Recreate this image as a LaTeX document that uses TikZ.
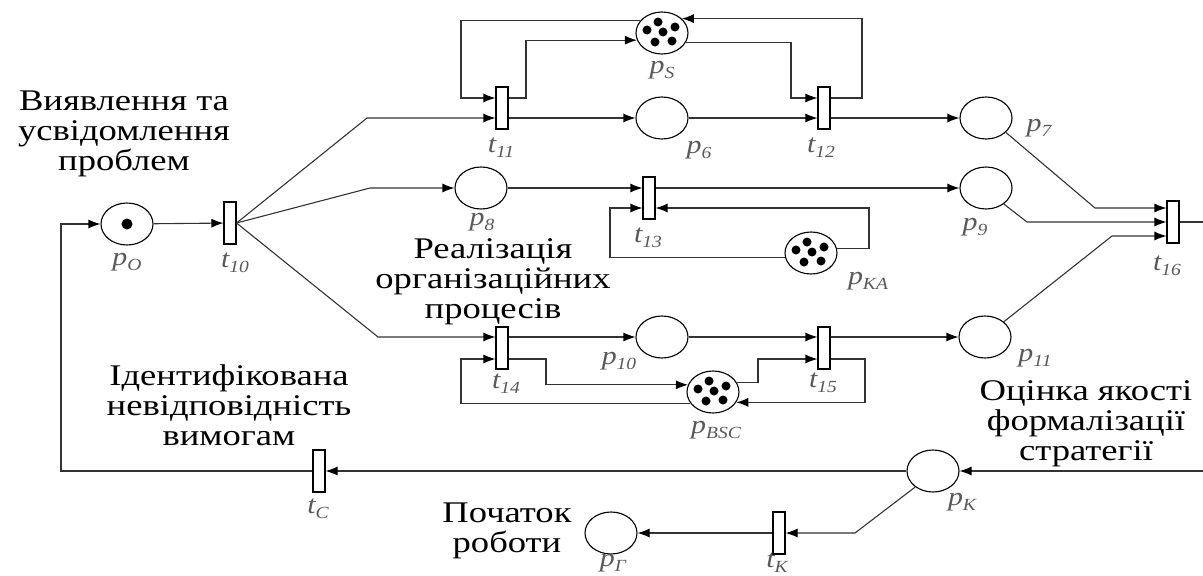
\documentclass[tikz,border=0pt]{standalone}
\usepackage{fontspec}
\usepackage{tikz}
\usetikzlibrary{arrows.meta}
\usetikzlibrary{calc}
\usetikzlibrary{shapes.geometric}
\newfontfamily\txtfont{Liberation Serif}[FakeStretch=1.22]
\newfontfamily\lblfont{Liberation Serif}[FakeStretch=1.15]
\newcommand{\pn}[2]{#1\raisebox{-0.2em}{\fontsize{17}{17}\selectfont #2}}

\begin{document}
\begin{tikzpicture}[x=1pt,y=-1pt,line width=1.1pt,
		place/.style={ellipse,draw,minimum width=52pt,minimum height=42pt,inner sep=0pt},
		trans/.style={rectangle,draw,fill=white,minimum width=12pt,minimum height=42pt,inner sep=0pt},
		lbl/.style={text=black!65,font=\lblfont\itshape\fontsize{26}{26}\selectfont,inner sep=0pt},
		txt/.style={align=center,font=\txtfont\fontsize{30}{30}\selectfont,inner sep=0pt},
		arr/.style={draw=black!80,-{Latex[length=12pt,width=9pt,color=black]}}]
		\useasboundingbox (0,0) rectangle (1203,576);
		% places
		\node[place] (pO) at (127,224) {};
		\fill (pO) circle (5.5pt);
		\node[place] (pS) at (662,33) {};
		\node[place] (p6) at (662,118) {};
		\node[place] (p7) at (986,118) {};
		\node[place] (p8) at (481,188) {};
		\node[place] (p9) at (986,188) {};
		\node[place] (pKA) at (811,253) {};
		\node[place] (p10) at (662,337) {};
		\node[place] (p11) at (985,337) {};
		\node[place] (pBSC) at (713,392) {};
		\node[place] (pK) at (933,471) {};
		\node[place] (pG) at (611,533) {};
		\foreach \q in {pS,pKA,pBSC}
			\foreach \dx/\dy in {-4/-11,-15/-3,1/-1,13/-6,-7/9,10/8}
				\fill ($(\q)+(\dx,\dy)$) circle (4.5pt);
		% transitions
		\node[trans] (t10) at (230,223) {};
		\node[trans] (t11) at (502,108) {};
		\node[trans] (t12) at (824,108) {};
		\node[trans] (t13) at (649,198) {};
		\node[trans] (t14) at (502,348) {};
		\node[trans] (t15) at (824,348) {};
		\node[trans] (t16) at (1173,222) {};
		\node[trans] (tC) at (319,471) {};
		\node[trans] (tK) at (779,533) {};
		\coordinate (out16) at (1203,222);
		\coordinate (inK) at (1203,471);
		% arcs
		\draw[arr] (pO) -- (t10);
		\draw[arr] (t10.east) -- (367,118) -- (t11.west |- p6);
		\draw[arr] (t10.east) -- (370,188) -- (p8);
		\draw[arr] (t10.east) -- (378,337) -- (t14.west |- p10);
		\draw[arr] (t11.east |- p6) -- (p6);
		\draw[arr] (p6) -- (t12.west |- p6);
		\draw[arr] (t12.east |- p6) -- (p7);
		\draw[arr] (t11.east |- 0,98) -| (526,0 |- pS.196) -- (pS.196);
		\draw[arr] (pS.151) -| (461,98) -- (t11.west |- 0,98);
		\draw[arr] (pS.-21) -| (791,98) -- (t12.west |- 0,98);
		\draw[arr] (t12.east |- 0,98) -| (862,0 |- pS.36) -- (pS.36);
		\draw[arr] (p8) -- (t13.west |- p8);
		\draw[arr] (t13.east |- p8) -- (p9);
		\draw[arr] (pKA.9) -| (869,208) -- (t13.east |- 0,208);
		\draw[arr] (pKA.189) -| (610,208) -- (t13.west |- 0,208);
		\draw[arr] (t14.east |- p10) -- (p10);
		\draw[arr] (p10) -- (t15.west |- p10);
		\draw[arr] (t15.east |- p10) -- (p11);
		\draw[arr] (t14.east |- 0,359) -| (546,0 |- pBSC.164) -- (pBSC.164);
		\draw[arr] (pBSC.206) -| (461,359) -- (t14.west |- 0,359);
		\draw[arr] (pBSC.21) -| (758,359) -- (t15.west |- 0,359);
		\draw[arr] (t15.east |- 0,359) -| (865,0 |- pBSC.-24) -- (pBSC.-24);
		\draw[arr] (p7.-36) -- (1095,208) -- (t16.west |- 0,208);
		\draw[arr] (p9.-42) -- (1027,222) -- (t16.west |- 0,222);
		\draw[arr] (p11.39) -- (1112,236) -- (t16.west |- 0,236);
		\draw[draw=black!80] (t16.east) -- (out16);
		\draw[arr] (inK) -- (pK);
		\draw[arr] (pK) -- (tC);
		\draw[arr] (tC) -- (61,471) -- (61,224) -- (pO);
		\draw[arr] (pK.222) -- (855,533) -- (tK);
		\draw[arr] (tK) -- (pG);
		% labels
		\node[lbl] (lpO) at (127,262) {\pn{p}{O}};
		\node[lbl] (lt10) at (235,263) {\pn{t}{10}};
		\node[lbl] (lpS) at (662,70) {\pn{p}{S}};
		\node[lbl] (lt11) at (501,148) {\pn{t}{11}};
		\node[lbl] (lp6) at (699,150) {\pn{p}{6}};
		\node[lbl] (lt12) at (821,148) {\pn{t}{12}};
		\node[lbl] (lp7) at (1039,128) {\pn{p}{7}};
		\node[lbl] (lp8) at (482,222) {\pn{p}{8}};
		\node[lbl] (lt13) at (648,238) {\pn{t}{13}};
		\node[lbl] (lp9) at (975,227) {\pn{p}{9}};
		\node[lbl] (lpKA) at (868,281) {\pn{p}{KA}};
		\node[lbl] (lt16) at (1167,266) {\pn{t}{16}};
		\node[lbl] (lp10) at (619,361) {\pn{p}{10}};
		\node[lbl] (lt14) at (506,384) {\pn{t}{14}};
		\node[lbl] (lt15) at (823,383) {\pn{t}{15}};
		\node[lbl] (lpBSC) at (716,430) {\pn{p}{BSC}};
		\node[lbl] (lp11) at (1035,358) {\pn{p}{11}};
		\node[lbl] (ltC) at (318,509) {\pn{t}{C}};
		\node[lbl] (lpK) at (962,502) {\pn{p}{K}};
		\node[lbl] (lpG) at (613,563) {\pn{p}{Г}};
		\node[lbl] (ltK) at (777,563) {\pn{t}{K}};
		% texts
		\node[txt] (tVyav) at (124,134) {Виявлення та\\усвідомлення\\проблем};
		\node[txt] (tReal) at (493,282) {Реалізація\\організаційних\\процесів};
		\node[txt] (tIdent) at (229,405) {Ідентифікована\\невідповідність\\вимогам};
		\node[txt] (tOtsin) at (1086,424) {Оцінка якості\\формалізації\\стратегії};
		\node[txt] (tPoch) at (507,531) {Початок\\роботи};
\end{tikzpicture}
\end{document}
